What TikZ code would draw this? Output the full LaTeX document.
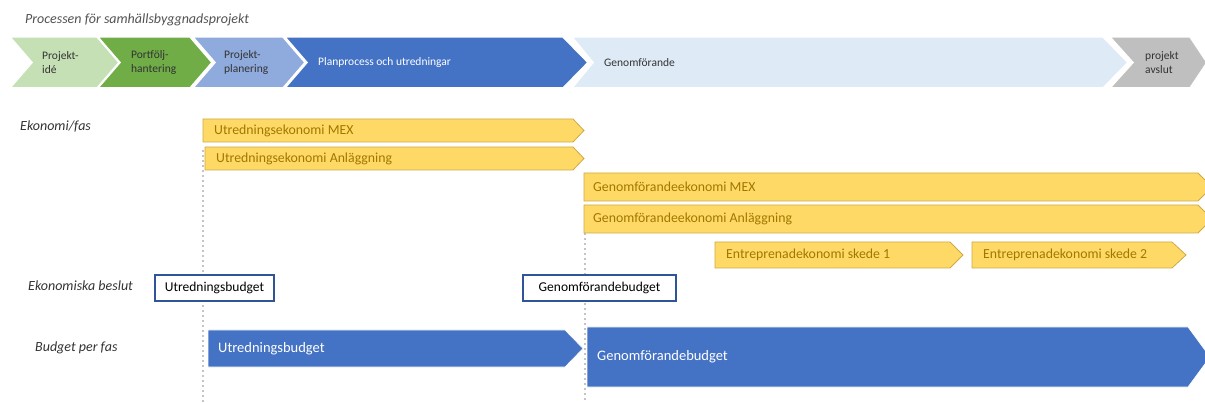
\documentclass[tikz,border=0pt]{standalone}
\usepackage{fontspec}
\setmainfont{Carlito}
\definecolor{pgreen}{HTML}{C5E0B4}
\definecolor{dgreen}{HTML}{70AD47}
\definecolor{lblue}{HTML}{8FAADC}
\definecolor{mblue}{HTML}{4472C4}
\definecolor{pblue}{HTML}{DEEBF7}
\definecolor{pgray}{HTML}{BFBFBF}
\definecolor{yfill}{HTML}{FFD966}
\definecolor{yedge}{HTML}{CDAA45}
\definecolor{ytext}{HTML}{A07800}
\definecolor{bedge}{HTML}{2F5597}
\definecolor{dtext}{HTML}{333333}
\definecolor{dotc}{HTML}{C4C4C4}
\tikzset{
  procshape/.style={draw=white,line width=1.5pt},
  proctext/.style={anchor=west,align=left,font=\fontsize{11.5}{14}\selectfont,text=dtext,inner sep=0pt},
  ecoshape/.style={fill=yfill,draw=yedge,line width=0.8pt},
  ecotext/.style={anchor=west,font=\fontsize{13.8}{15}\selectfont,text=ytext,inner sep=0pt},
  budgetbox/.style={draw=bedge,line width=1.8pt,fill=white,minimum height=26pt,inner sep=0pt,font=\fontsize{13.5}{15}\selectfont,text=black},
  phaseshape/.style={fill=mblue,draw=white,line width=0.6pt},
  phasetext/.style={anchor=west,font=\fontsize{14.5}{16}\selectfont,text=white,inner sep=0pt},
  sidelabel/.style={anchor=west,font=\fontsize{14}{16}\selectfont\itshape,text=dtext,inner sep=0pt},
  guideline/.style={draw=dotc,line width=2pt,dash pattern=on 2pt off 3pt}
}
\begin{document}
\begin{tikzpicture}[x=1pt,y=-1pt]
\useasboundingbox (0,0) rectangle (1205,403);
\clip (0,0) rectangle (1205,403);
% title
\node[sidelabel,text=dtext!85] (title) at (25,20) {Processen för samhällsbyggnadsprojekt};
% process row
\filldraw[procshape,fill=pgreen] (10,37)--(97,37)--(119,62.5)--(97,88)--(10,88)--(32,62.5)--cycle;
\filldraw[procshape,fill=dgreen] (98,37)--(190,37)--(212,62.5)--(190,88)--(98,88)--(120,62.5)--cycle;
\filldraw[procshape,fill=lblue] (193,37)--(283,37)--(305,62.5)--(283,88)--(193,88)--(215,62.5)--cycle;
\filldraw[procshape,fill=mblue] (285,37)--(563,37)--(588,62.5)--(563,88)--(285,88)--(307,62.5)--cycle;
\filldraw[procshape,fill=pblue] (572,37)--(1103,37)--(1128,62.5)--(1103,88)--(572,88)--(593,62.5)--cycle;
\filldraw[procshape,fill=pgray] (1110,37)--(1190,37)--(1207,62.5)--(1190,88)--(1110,88)--(1133,62.5)--cycle;
\node[proctext] (p1) at (42,62.5) {Projekt-\\idé};
\node[proctext] (p2) at (131,62.5) {Portfölj-\\hantering};
\node[proctext] (p3) at (224,62.5) {Projekt-\\planering};
\node[proctext,text=white] (p4) at (318,62.5) {Planprocess och utredningar};
\node[proctext] (p5) at (604,62.5) {Genomförande};
\node[proctext] (p6) at (1145,62.5) {projekt\\avslut};
% guide lines
\coordinate (g1a) at (203,150);
\coordinate (g1b) at (203,403);
\coordinate (g2a) at (585,233);
\coordinate (g2b) at (585,403);
\draw[guideline] (g1a) -- (g1b);
\draw[guideline] (g2a) -- (g2b);
% side labels
\node[sidelabel] (l1) at (20,126) {Ekonomi/fas};
\node[sidelabel] (l2) at (28,286) {Ekonomiska beslut};
\node[sidelabel] (l3) at (35,348) {Budget per fas};
% economy arrows
\filldraw[ecoshape] (203,119)--(573,119)--(584,130.5)--(573,142)--(203,142)--cycle;
\node[ecotext] (e1) at (214,130.5) {Utredningsekonomi MEX};
\filldraw[ecoshape] (205,147)--(573,147)--(584,158.5)--(573,170)--(205,170)--cycle;
\node[ecotext] (e2) at (216,158.5) {Utredningsekonomi Anläggning};
\filldraw[ecoshape] (584,173)--(1198,173)--(1212,187)--(1198,201)--(584,201)--cycle;
\node[ecotext] (e3) at (593,187) {Genomförandeekonomi MEX};
\filldraw[ecoshape] (584,205)--(1198,205)--(1212,219)--(1198,233)--(584,233)--cycle;
\node[ecotext] (e4) at (593,219) {Genomförandeekonomi Anläggning};
\filldraw[ecoshape] (715,242)--(950,242)--(963,255)--(950,268)--(715,268)--cycle;
\node[ecotext] (e5) at (726,255) {Entreprenadekonomi skede 1};
\filldraw[ecoshape] (972,242)--(1172,242)--(1186,255)--(1172,268)--(972,268)--cycle;
\node[ecotext] (e6) at (983,255) {Entreprenadekonomi skede 2};
% decision boxes
\node[budgetbox,minimum width=119pt] (b1) at (214.5,288) {Utredningsbudget};
\node[budgetbox,minimum width=153pt] (b2) at (599.5,288) {Genomförandebudget};
% budget per phase
\filldraw[phaseshape] (208,330)--(565,330)--(583,348.5)--(565,367)--(208,367)--cycle;
\node[phasetext] (f1) at (218,348.5) {Utredningsbudget};
\filldraw[phaseshape] (587,327)--(1188,327)--(1210,357)--(1188,387)--(587,387)--cycle;
\node[phasetext] (f2) at (597,357) {Genomförandebudget};
\end{tikzpicture}
\end{document}
